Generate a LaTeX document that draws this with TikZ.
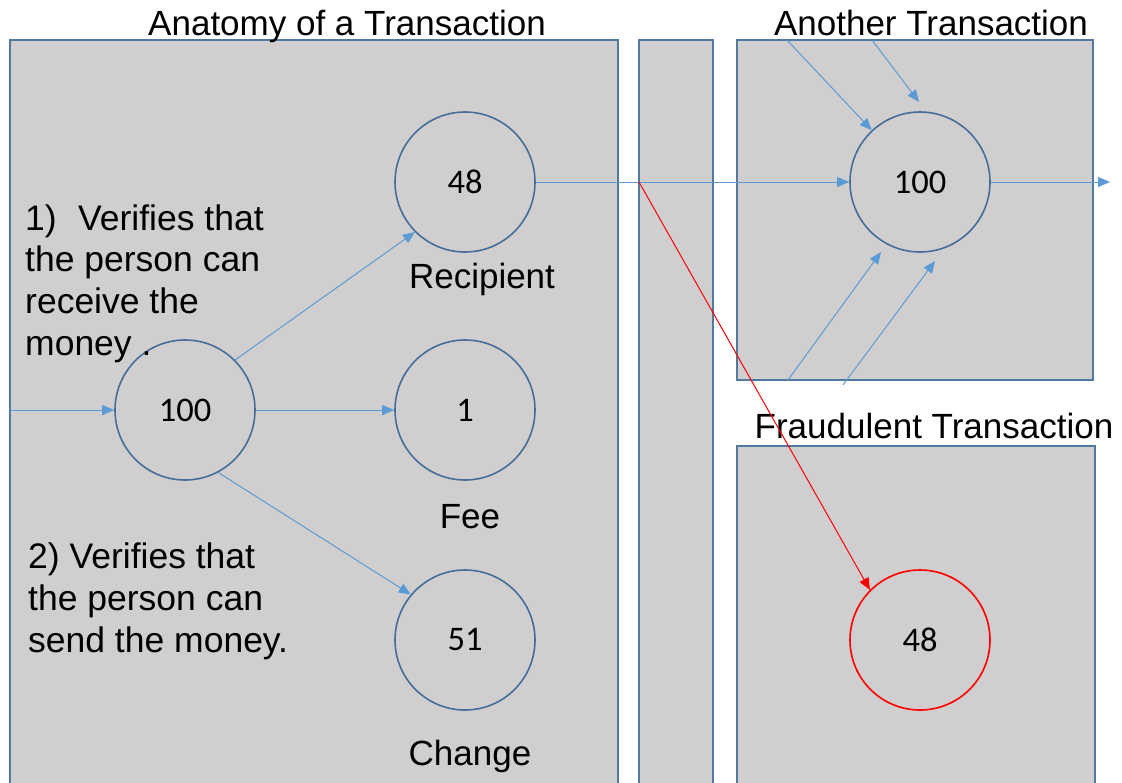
\documentclass[tikz,border=0pt]{standalone}
\usepackage{fontspec}
\setmainfont{Liberation Sans}
\newfontfamily\numfont{Carlito}
\usetikzlibrary{arrows.meta}
\definecolor{boxfill}{RGB}{208,206,207}
\definecolor{boxline}{RGB}{80,122,162}
\definecolor{circline}{RGB}{70,110,155}
\definecolor{arrowblue}{RGB}{91,155,213}
\definecolor{fraudred}{RGB}{255,0,0}
\tikzset{
  panel/.style={draw=boxline, fill=boxfill, line width=2pt},
  coin/.style={circle, draw=circline, line width=1.6pt, minimum size=140pt, inner sep=0pt, font=\numfont\fontsize{34.5}{38}\selectfont},
  fraudcoin/.style={coin, draw=fraudred},
  flow/.style={draw=arrowblue, line width=1pt, -{Triangle[length=12pt,width=10pt]}},
  fraudflow/.style={draw=fraudred, line width=1pt, -{Triangle[length=12pt,width=10pt]}},
  lbl/.style={inner sep=0pt, anchor=base, font=\fontsize{35}{42}\selectfont},
  txt/.style={inner sep=0pt, anchor=base west, font=\fontsize{35.5}{42}\selectfont}
}
\begin{document}
\begin{tikzpicture}[x=1pt,y=-1pt]
\clip (0,0) rectangle (1122,782);
% panels
\draw[panel] (10,40) rectangle (618,800);
\draw[panel] (639,40) rectangle (713,800);
\draw[panel] (737,40) rectangle (1093,380);
\draw[panel] (737,446) rectangle (1095,800);
% titles
\node[lbl] (t1) at (347,35) {Anatomy of a Transaction};
\node[lbl] (t2) at (931,35) {Another Transaction};
\node[lbl] (t3) at (934,438) {Fraudulent Transaction};
% coins
\node[coin] (in) at (185,410) {100};
\node[coin] (rec) at (465,182) {48};
\node[coin] (fee) at (465,410) {1};
\node[coin] (chg) at (465,640) {51};
\node[coin] (oth) at (920,182) {100};
\node[fraudcoin] (frd) at (920,640) {48};
% labels
\node[lbl] (lrec) at (482,288) {Recipient};
\node[lbl] (lfee) at (470,528) {Fee};
\node[lbl] (lchg) at (470,765) {Change};
% left texts
\node[txt] (a1) at (25,230) {1)};
\node[txt] (a2) at (78,230) {Verifies that};
\node[txt] (a3) at (25,271) {the person can};
\node[txt] (a4) at (25,313) {receive the};
\node[txt] (a5) at (25,355) {money .};
\node[txt] (b1) at (28,568) {2) Verifies that};
\node[txt] (b2) at (28,610) {the person can};
\node[txt] (b3) at (28,652) {send the money.};
% coordinates
\coordinate (src) at (10,410);
\coordinate (split) at (639,182);
\coordinate (out) at (1110,182);
\coordinate (s1) at (787,40);
\coordinate (s2) at (872,40);
\coordinate (e2) at (919,102);
\coordinate (s3) at (788,380);
\coordinate (e3) at (881,252);
\coordinate (s4) at (843,385);
\coordinate (e4) at (935,261);
% connectors
\draw[flow] (src) -- (in.west);
\draw[flow] (in.45) -- (rec.225);
\draw[flow] (in.east) -- (fee.west);
\draw[flow] (in.-62) -- (chg.140);
\draw[flow] (rec.east) -- (oth.west);
\draw[flow] (oth.east) -- (out);
\draw[flow] (s1) -- (oth.133);
\draw[flow] (s2) -- (e2);
\draw[flow] (s3) -- (e3);
\draw[flow] (s4) -- (e4);
\draw[fraudflow] (split) -- (frd.135);
\end{tikzpicture}
\end{document}
